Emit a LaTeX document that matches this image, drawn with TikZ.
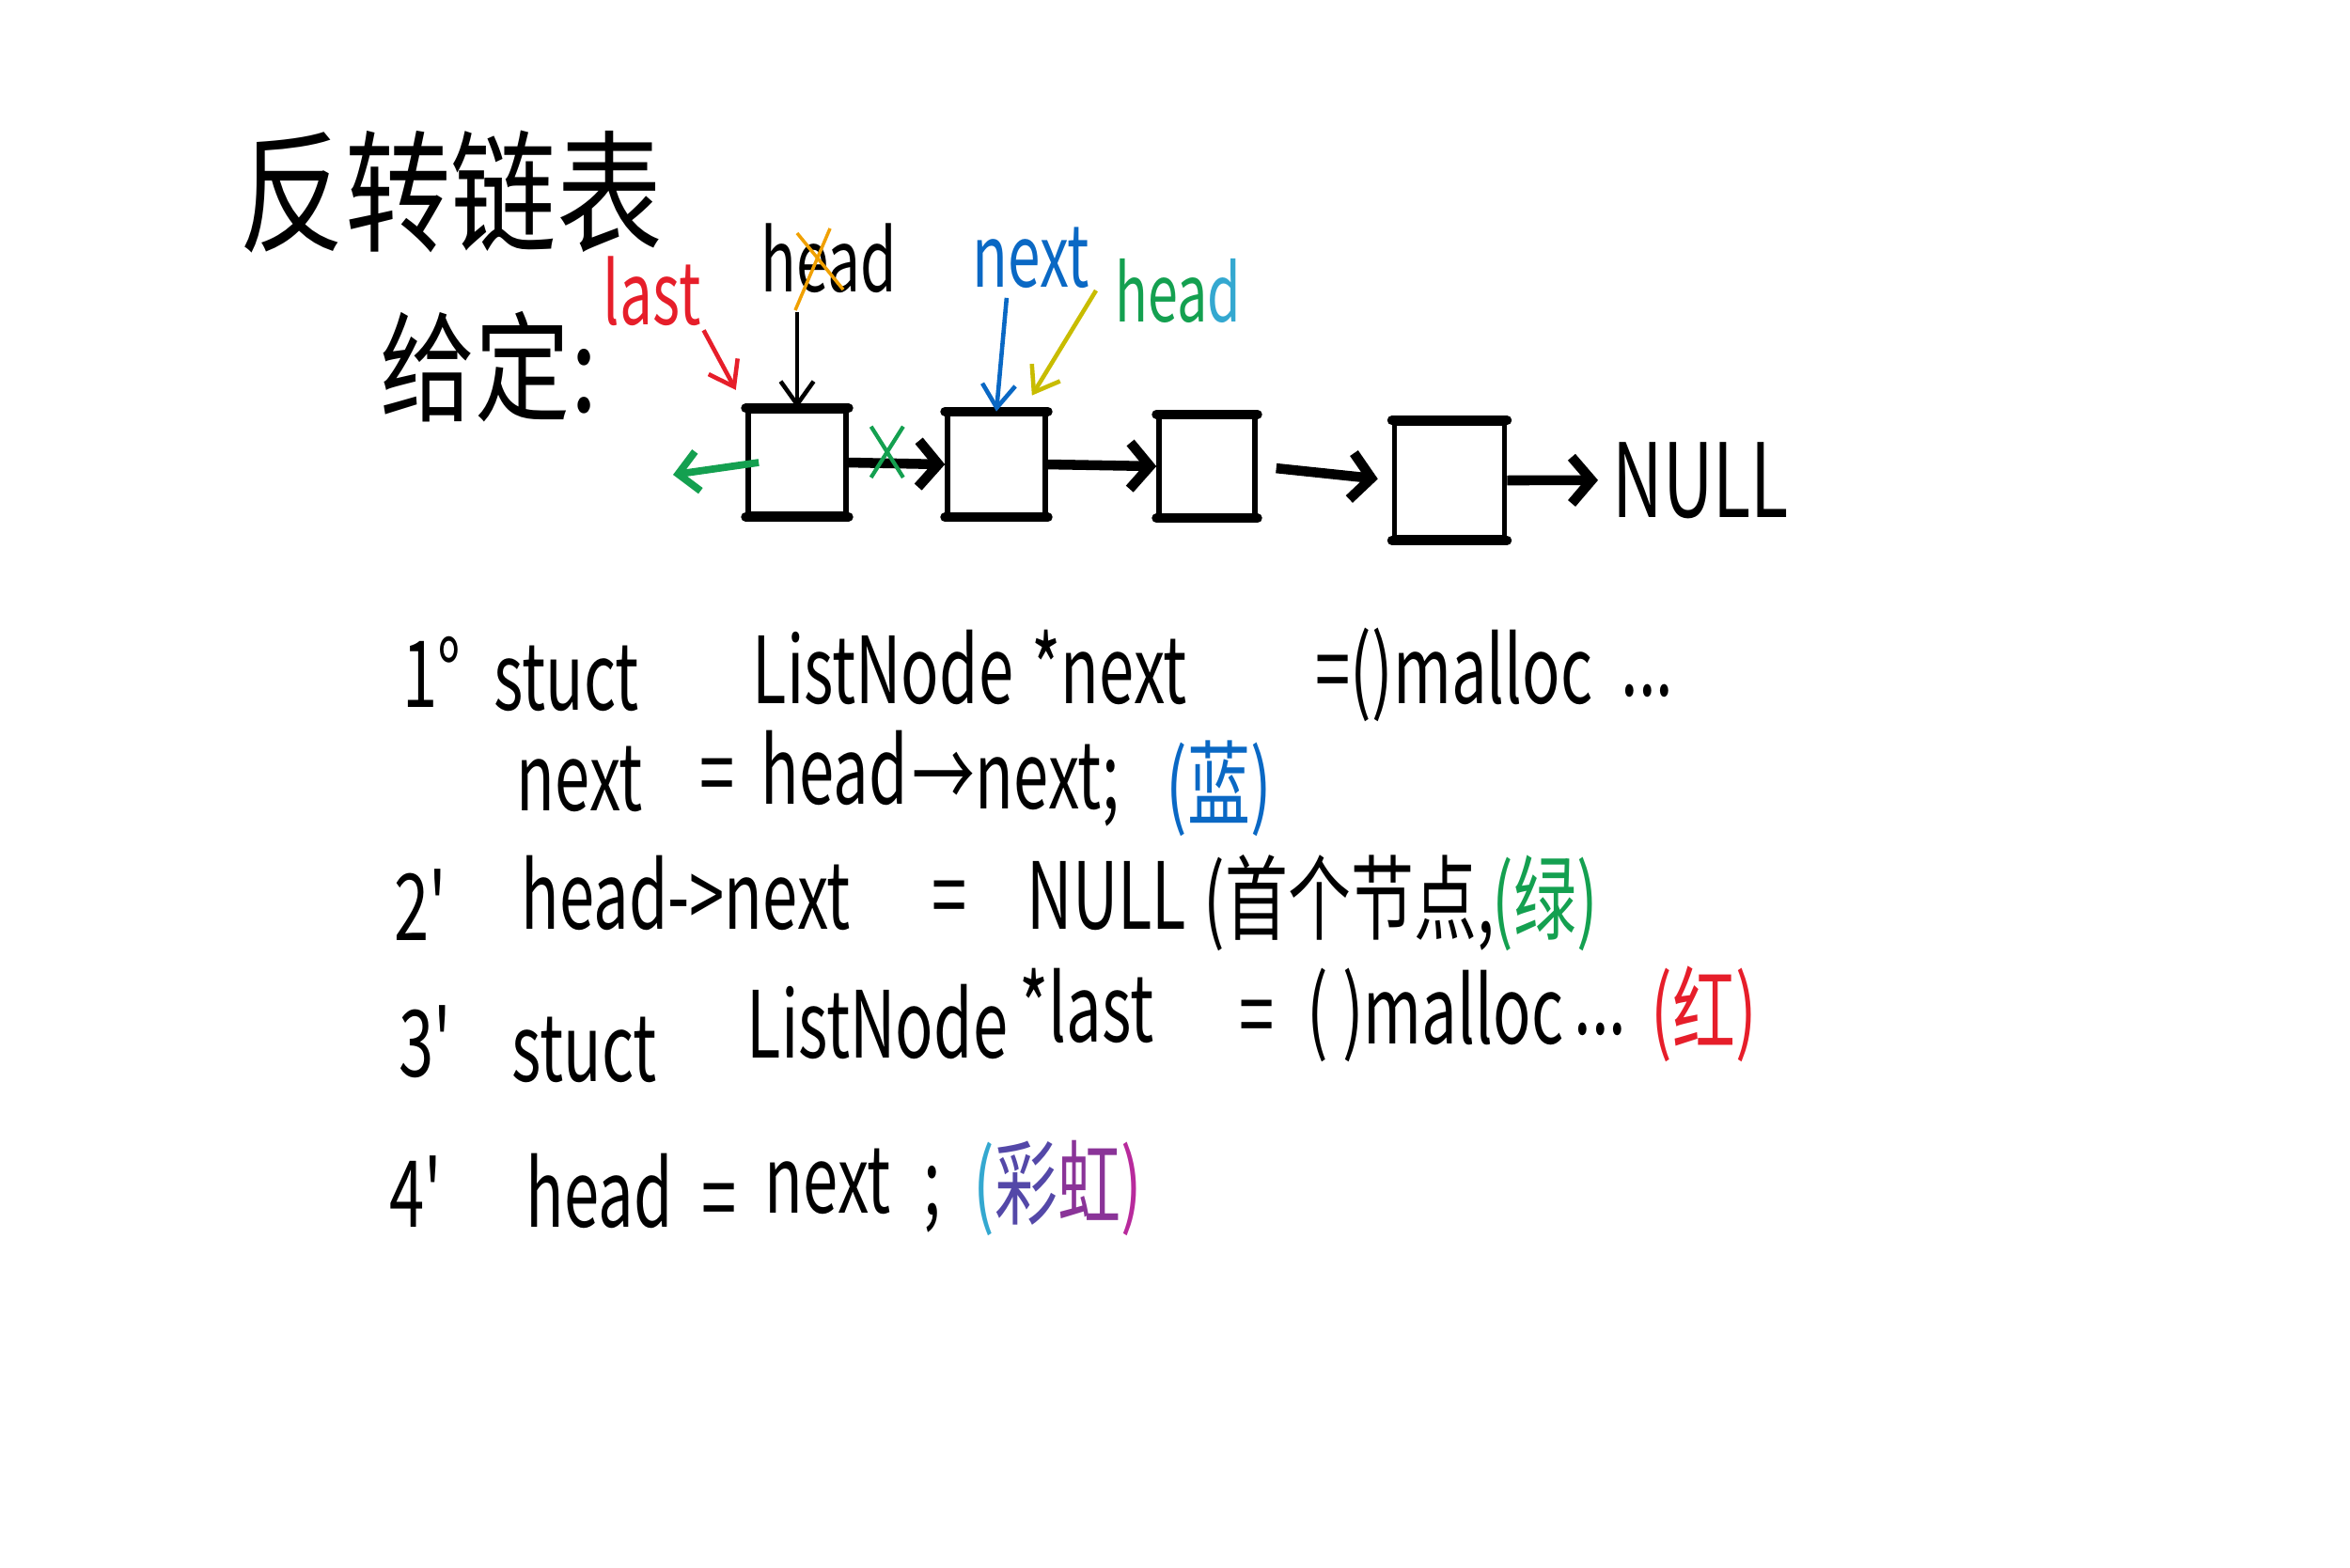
\documentclass[tikz,border=0pt]{standalone}
\usepackage{fontspec}
\setmainfont{Noto Sans CJK SC}
\newfontfamily\hand[FakeStretch=0.68]{Noto Sans CJK SC}
\newfontfamily\handwide[FakeStretch=0.8]{Noto Sans CJK SC}
\usetikzlibrary{
  arrows.meta,
  calc,
  shapes.misc
}
\definecolor{inkred}{HTML}{E61E2A}
\definecolor{inkblue}{HTML}{0A68C4}
\definecolor{inkgreen}{HTML}{14A050}
\definecolor{inkorange}{HTML}{F0A000}
\definecolor{inkyellow}{HTML}{C8BC00}
\definecolor{inkcyan}{HTML}{34A8D0}
\definecolor{inkviolet}{HTML}{5448A8}
\definecolor{inkpurple}{HTML}{8A3498}
\definecolor{inkmagenta}{HTML}{B82A9C}
\tikzset{
  % For the big handwritten headings.
  heading/.style={
    inner sep=0pt,
    anchor=base west,
    font=\handwide\fontsize{40pt}{48pt}\selectfont},
%
  % For the names pointing at cells.
  varname/.style={
    inner sep=0pt,
    anchor=base west,
    font=\hand\fontsize{26pt}{30pt}\selectfont},
%
  % For the numbered steps.
  codeline/.style={
    inner sep=0pt,
    anchor=base west,
    font=\hand\fontsize{28pt}{34pt}\selectfont},
%
  % For the list cells.
  cell/.style={
    draw,
    line width=1.6pt,
    inner sep=0pt},
%
  % For the heavy top and bottom edges of a cell.
  lid/.style={
    line width=2.8pt,
    line cap=round},
%
  % For thick links between cells.
  link/.style={
    line width=3pt,
    -{Straight Barb[length=6pt,width=14pt]}},
%
  % For the reversed link.
  back link/.style={
    line width=2.2pt,
    draw=inkgreen,
    -{Straight Barb[length=6pt,width=12pt]}},
%
  % For thin arrows from a name to a cell.
  pointer/.style={
    line width=1.3pt,
    -{Straight Barb[length=7pt,width=10pt]}},
%
  % For crossed out things.
  cut/.style={
    cross out,
    draw=inkgreen,
    line width=1.2pt,
    minimum width=0.3cm,
    minimum height=0.5cm,
    inner sep=0pt},
  strike/.style={
    draw=inkorange,
    line width=1pt}
}
\begin{document}
\begin{tikzpicture}
  \useasboundingbox (0,0) rectangle (25,-16.67);

  \node[heading] (title) at (2.54,-2.57) {反转链表};
  \node[heading, font=\handwide\fontsize{36pt}{44pt}\selectfont] (given) at (4.04,-4.38) {给定:};

  % The list.
  \node[cell, minimum width=1.04cm, minimum height=1.10cm] (first) at (8.48,-4.92) {};
  \node[cell, minimum width=1.04cm, minimum height=1.07cm] (second) at (10.60,-4.94) {};
  \node[cell, minimum width=1.02cm, minimum height=1.05cm] (third) at (12.84,-4.96) {};
  \node[cell, minimum width=1.17cm, minimum height=1.22cm] (fourth) at (15.42,-5.11) {};
  \node[codeline, font=\hand\fontsize{31pt}{38pt}\selectfont] (null) at (17.15,-5.50) {NULL};

  \foreach \c in {first, second, third, fourth} {
    \draw[lid] (\c.north west) -- (\c.north east);
    \draw[lid] (\c.south west) -- (\c.south east);
  }

  \draw[link] (first.east) -- (second.west)
              node[cut, pos=0.4, yshift=0.12cm] (cut) {};
  \draw[link] (second.east) -- (third.west);
  \draw[link, shorten <=0.2cm, shorten >=0.15cm] (third.east) -- (fourth.west);
  \draw[link, shorten >=0.15cm] (fourth.east) -- (null.west);

  \coordinate (back end) at (7.16,-5.05);
  \draw[back link] ([xshift=0.14cm]first.west) -- (back end);

  % Names pointing at the cells.
  \node[varname, text=inkred] (last) at (6.41,-3.45) {last};
  \node[varname] (old head) at (8.09,-3.10) {head};
  \node[varname, text=inkblue] (new next) at (10.34,-3.05) {next};
  \node[varname, text=inkgreen, font=\hand\fontsize{24pt}{30pt}\selectfont] (new head) at (11.86,-3.42) {hea\textcolor{inkcyan}{d}};

  \draw[strike] ($(old head.base west)+(0.74,0.67)$) -- ($(old head.base west)+(0.37,-0.20)$);
  \draw[strike] ($(old head.base west)+(0.39,0.62)$) -- ($(old head.base west)+(0.88,0.02)$);

  \draw[pointer, draw=inkred, shorten <=0.05cm, shorten >=0.22cm]
    (last.south east) -- (first.north west);
  \draw[pointer, shorten <=0.2cm] (old head.south -| first.north) -- (first.north);
  \draw[pointer, draw=inkblue, shorten <=0.1cm]
    ($(new next.south west)!0.3!(new next.south east)$) -- (second.north);
  \draw[pointer, draw=inkyellow, shorten >=0.2cm]
    ([xshift=-0.2cm]new head.west) -- ($(second.north)!0.5!(second.north east)$);

  % Step 1.
  \node[codeline] (one num) at (4.28,-7.52) {1°};
  \node[codeline] (one struct) at (5.25,-7.55) {stuct};
  \node[codeline] (one type) at (8.00,-7.48) {ListNode};
  \node[codeline] (one var) at (10.97,-7.48) {*next};
  \node[codeline] (one alloc) at (13.99,-7.48) {=()malloc};
  \node[codeline] (one dots) at (17.24,-7.40) {...};

  \node[codeline] (fetch var) at (5.49,-8.62) {next};
  \node[codeline] (fetch eq) at (7.44,-8.58) {=};
  \node[codeline] (fetch head) at (8.09,-8.55) {head};
  \node[codeline] (fetch next) at (9.70,-8.60) {→next;};
  \node[codeline, text=inkblue] (fetch color) at (12.40,-8.70) {(蓝)};

  % Step 2.
  \node[codeline] (two num) at (4.19,-10.00) {2'};
  \node[codeline] (two lhs) at (5.54,-9.88) {head->next};
  \node[codeline] (two eq) at (9.91,-9.88) {=};
  \node[codeline] (two null) at (10.92,-9.88) {NULL};
  \node[codeline] (two note) at (12.80,-9.92) {(首个节点,};
  \node[codeline, text=inkgreen] (two color) at (15.87,-9.92) {(绿)};

  % Step 3.
  \node[codeline] (three num) at (4.24,-11.45) {3'};
  \node[codeline] (three struct) at (5.44,-11.50) {stuct};
  \node[codeline] (three type) at (7.94,-11.25) {ListNode};
  \node[codeline] (three var) at (10.84,-11.08) {*last};
  \node[codeline] (three eq) at (13.18,-11.15) {=};
  \node[codeline] (three alloc) at (13.90,-11.10) {( )malloc};
  \node[codeline] (three dots) at (16.74,-11.00) {...};
  \node[codeline, text=inkred] (three color) at (17.56,-11.10) {(红)};

  % Step 4.
  \node[codeline] (four num) at (4.14,-13.05) {4'};
  \node[codeline] (four var) at (5.59,-13.05) {head};
  \node[codeline] (four eq) at (7.46,-13.10) {=};
  \node[codeline] (four next) at (8.13,-12.90) {next};
  \node[codeline] (four semi) at (9.82,-12.92) {;};
  \node[codeline] (four color) at (10.35,-12.95)
    {\textcolor{inkcyan}{(}\textcolor{inkviolet}{彩}\textcolor{inkpurple}{虹}\textcolor{inkmagenta}{)}};
\end{tikzpicture}
\end{document}
